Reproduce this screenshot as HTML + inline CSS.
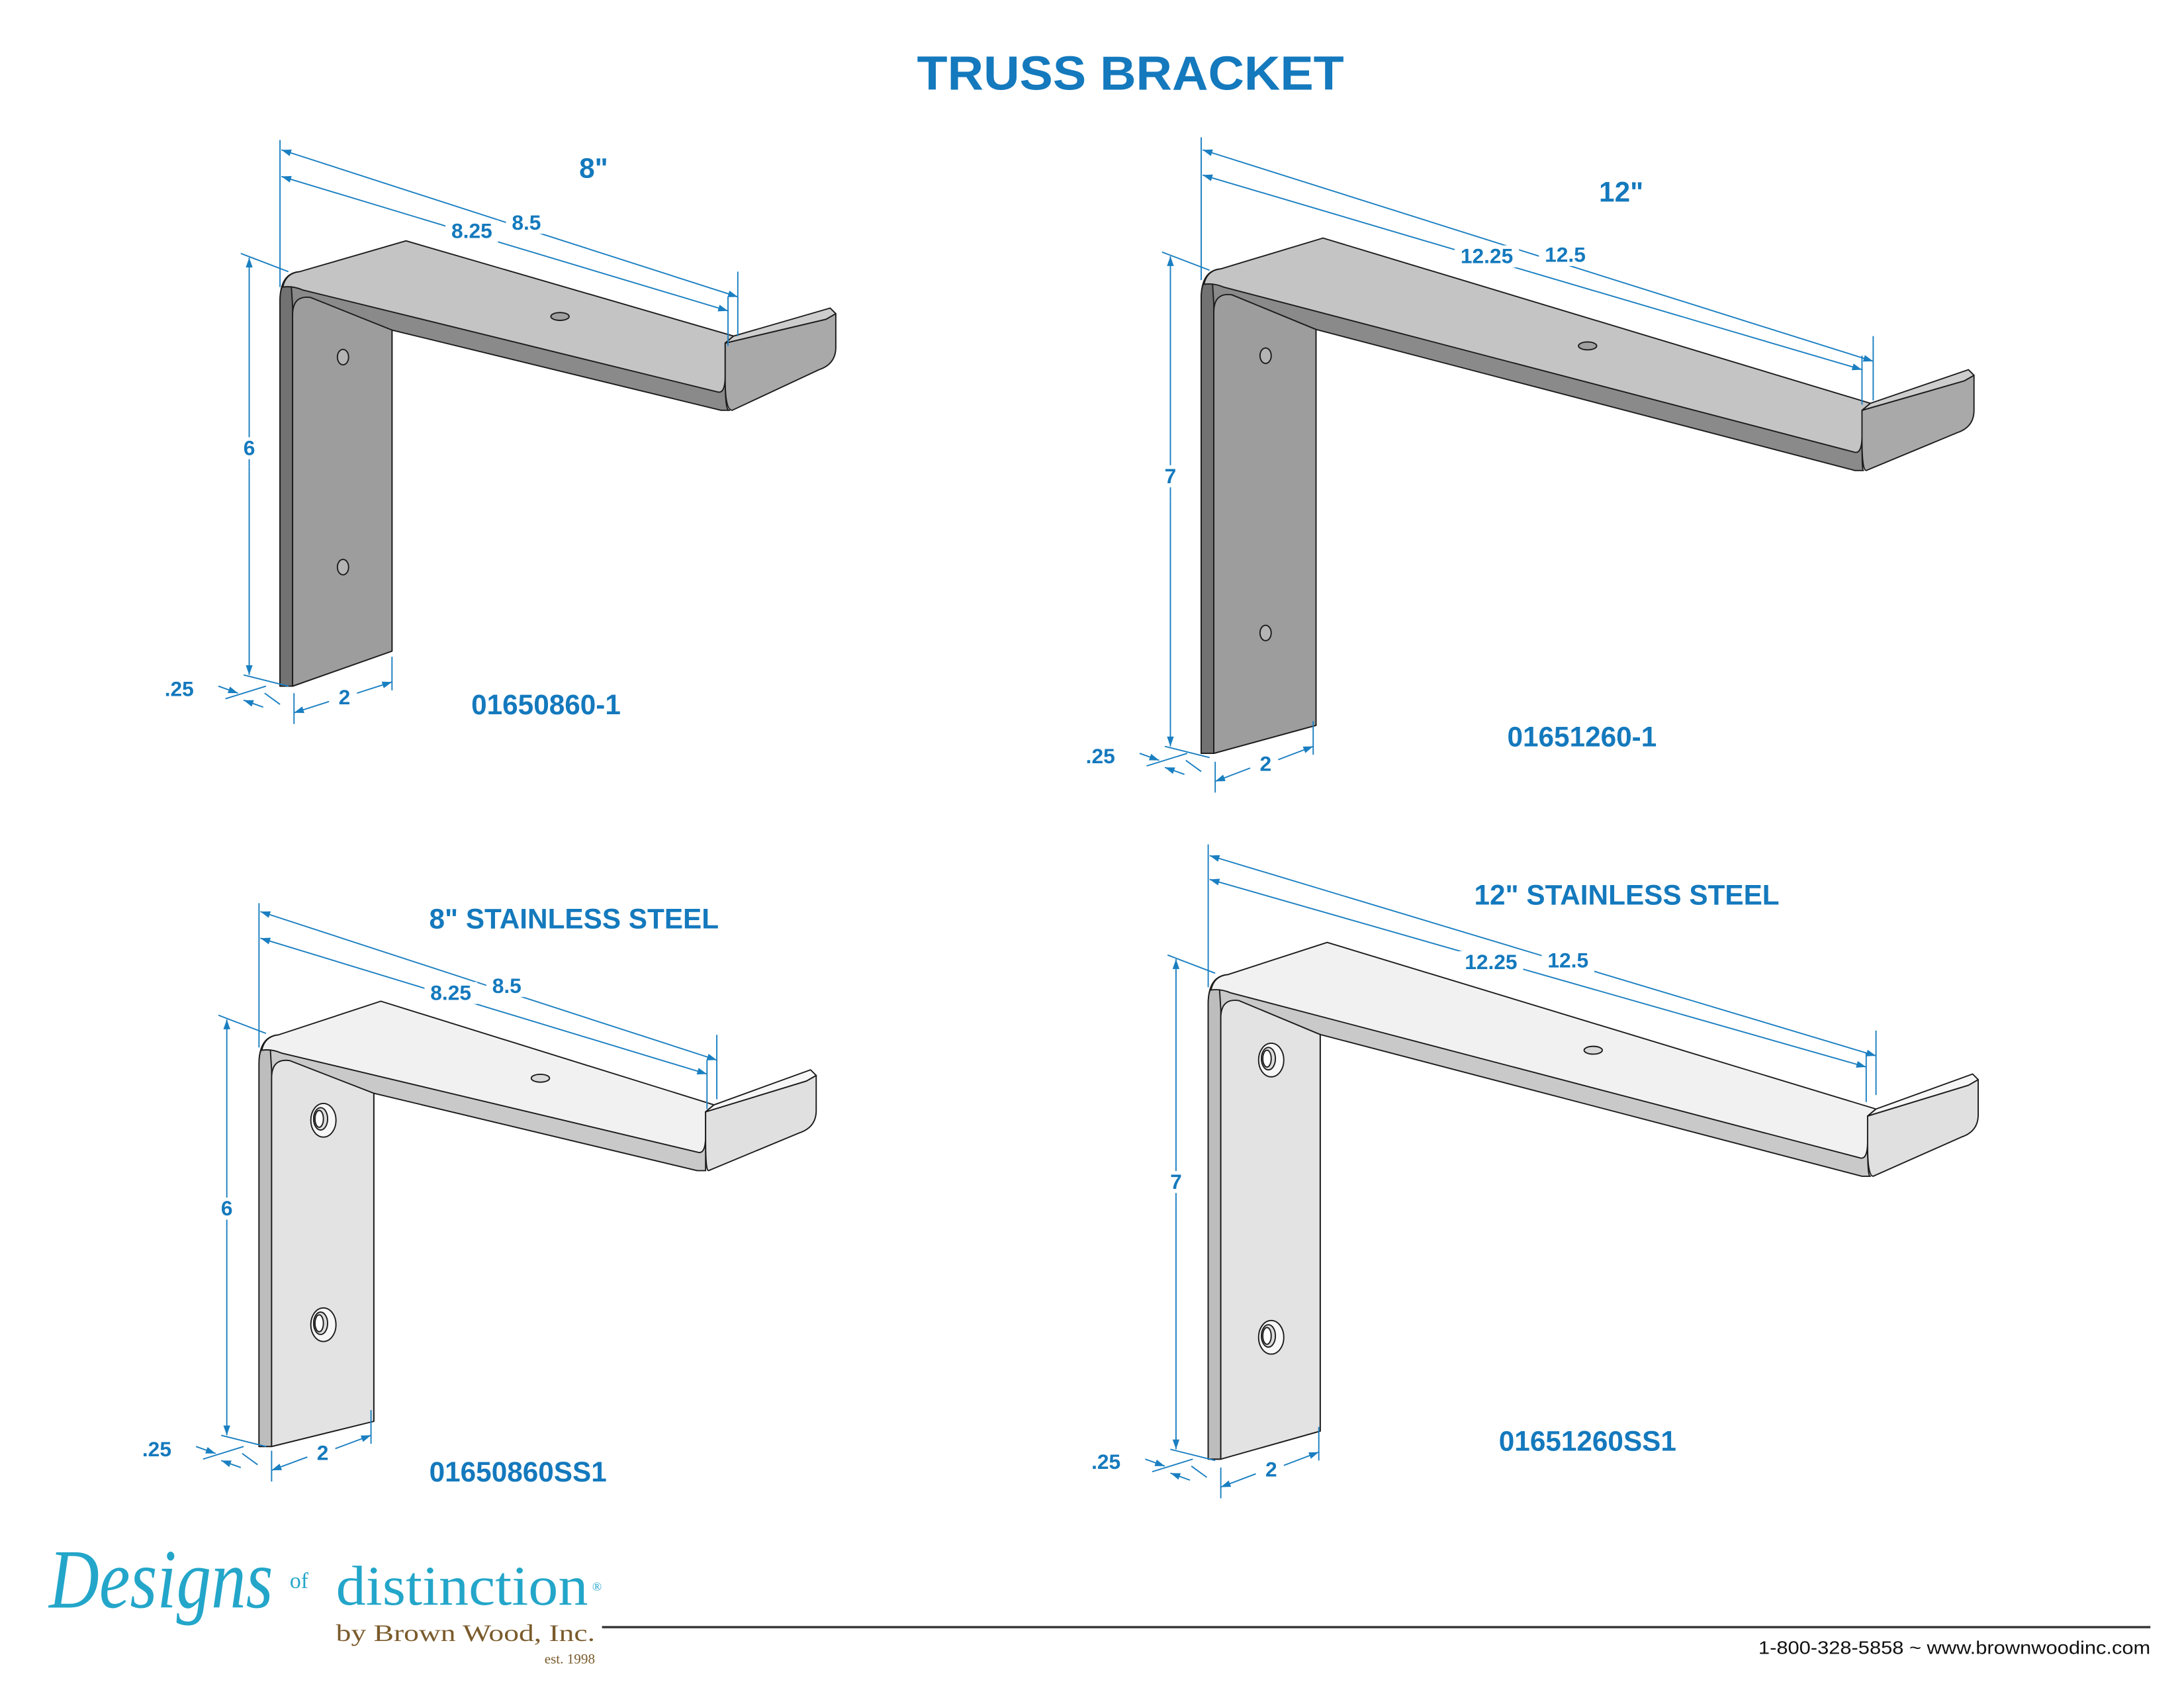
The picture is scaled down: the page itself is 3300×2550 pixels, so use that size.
<!DOCTYPE html>
<html><head><meta charset="utf-8"><style>
html,body{margin:0;padding:0;background:#fff}
svg{display:block}
</style></head><body>
<svg id="s" xmlns="http://www.w3.org/2000/svg" width="3300" height="2550" viewBox="0 0 1560 1205.45">
<defs>
<marker id="ar" viewBox="0 0 10 10" refX="10" refY="5" markerWidth="7" markerHeight="7" orient="auto-start-reverse" markerUnits="userSpaceOnUse"><path d="M0,1.5 L10,5 L0,8.5 Z" fill="#1a7fc1"/></marker>
</defs>
<rect width="1560" height="1206" fill="#fff"/>
<text x="655" y="64" textLength="305" lengthAdjust="spacingAndGlyphs" font-family="Liberation Sans, sans-serif" font-weight="bold" font-size="34" fill="#1479bd">TRUSS BRACKET</text>
<g id="g"></g>
<text x="35" y="1148" textLength="160" lengthAdjust="spacingAndGlyphs" font-family="Liberation Serif, serif" font-style="italic" font-size="60" fill="#23a6c9">Designs</text>
<text x="207" y="1134" font-family="Liberation Serif, serif" font-size="16" fill="#23a6c9">of</text>
<text x="240" y="1146" textLength="180" lengthAdjust="spacingAndGlyphs" font-family="Liberation Serif, serif" font-size="40" fill="#23a6c9">distinction</text>
<text x="423" y="1136" font-family="Liberation Serif, serif" font-size="9" fill="#23a6c9">®</text>
<text x="240" y="1172" textLength="185" lengthAdjust="spacingAndGlyphs" font-family="Liberation Serif, serif" font-size="17" fill="#7a5b2c">by Brown Wood, Inc.</text>
<text x="425" y="1188" text-anchor="end" font-family="Liberation Serif, serif" font-size="10" fill="#7a5b2c">est. 1998</text>
<line x1="430" y1="1162" x2="1536" y2="1162" stroke="#333" stroke-width="1.6"/>
<text x="1256" y="1181" textLength="280" lengthAdjust="spacingAndGlyphs" font-family="Liberation Sans, sans-serif" font-size="13" fill="#111">1-800-328-5858 ~ www.brownwoodinc.com</text>
</svg>
<script>
let out='';
const BLUE='#1a7fc1', TXT='#1479bd';
function P(a){return a.map(p=>p.join(',')).join(' ');}
function bracket(b){
 const {L,T,R,BL,BR,K,E,X,Lt,Lb,Z,ss}=b;
 const c = ss?{top:'#f1f1f1',band:'#c9c9c9',face:'#e3e3e3',edge:'#bdbdbd',lip:'#e0e0e0',liptop:'#f6f6f6'}
             :{top:'#c4c4c4',band:'#8a8a8a',face:'#9d9d9d',edge:'#727272',lip:'#a9a9a9',liptop:'#cdcdcd'};
 const Ef=[E[0]-6,E[1]+5];
 const Fe=[Ef[0]-5,Z[1]-13];
 const Fi=[L+16,T+12];
 const s=(Fe[1]-Fi[1])/(Fe[0]-Fi[0]);
 const yR=Fi[1]+(R-Fi[0])*s+13;
 const st='stroke="#1c1c1c" stroke-width="0.9" stroke-linejoin="round"';
 out+=`<path d="M${L},${T+20} Q${L},${T} ${L+14},${T-1} L${Ef} L${Ef[0]},${Z[1]-22} Q${Ef[0]},${Z[1]+1} ${Z[0]+6},${Z[1]} L${Z} L${R},${yR} L${R},${BR} L${L+9},${BL} L${L},${BL} Z" fill="${c.band}" ${st}/>`;
 out+=`<path d="M${L},${T+20} Q${L},${T+4} ${L+8},${T+8} L${L+9},${T+24} L${L+9},${BL} L${L},${BL} Z" fill="${c.edge}" ${st}/>`;
 const y2=Fi[1]+4+(L+22-Fi[0])*s;
 out+=`<path d="M${L+9},${BL} L${L+9},${T+30} Q${L+9},${y2-2} ${L+22},${y2} L${R},${yR} L${R},${BR} Z" fill="${c.face}" ${st}/>`;
 out+=`<path d="M${L+2},${T+10} Q${L+4},${T} ${L+14},${T-1} L${K} L${E} L${Ef} L${Ef[0]},${Fe[1]-12} Q${Ef[0]},${Fe[1]+1} ${Fe} L${Fi} Q${L+9},${T+9} ${L+2},${T+10} Z" fill="${c.top}" ${st}/>`;
 out+=`<path d="M${Ef} L${X-7},${Lt+2} L${X},${Lt-2} L${X},${Lb-12} Q${X},${Lb} ${X-12},${Lb+4} L${Z[0]+8},${Z[1]} Q${Ef[0]},${Z[1]} ${Ef[0]},${Z[1]-22} Z" fill="${c.lip}" ${st}/>`;
 out+=`<polygon points="${P([E,[X-4,Lt-6],[X,Lt-2],[X-7,Lt+2],Ef])}" fill="${c.liptop}" ${st}/>`;
 for(const h of b.holes){
  if(ss){
   out+=`<ellipse cx="${h[0]}" cy="${h[1]}" rx="9" ry="12" fill="#f7f7f7" ${st}/>`;
   out+=`<ellipse cx="${h[0]-2}" cy="${h[1]-1}" rx="5" ry="8" fill="#dcdcdc" ${st}/>`;
   out+=`<ellipse cx="${h[0]-3}" cy="${h[1]-1}" rx="3" ry="6" fill="#fff" ${st}/>`;
  } else out+=`<ellipse cx="${h[0]}" cy="${h[1]}" rx="4" ry="5.5" fill="#b4b4b4" ${st}/>`;
 }
 out+=`<ellipse cx="${b.ph[0]}" cy="${b.ph[1]}" rx="6.5" ry="2.8" fill="${ss?'#d8d8d8':'#a0a0a0'}" ${st}/>`;
}
function line(a,b,arrowEnd){
 out+=`<line x1="${a[0]}" y1="${a[1]}" x2="${b[0]}" y2="${b[1]}" stroke="${BLUE}" stroke-width="0.9" ${arrowEnd?'marker-end="url(#ar)"':''}/>`;
}
function txt(x,y,t,size,bg){
 if(bg){const w=t.length*size*0.56+4;out+=`<rect x="${x-w/2}" y="${y-size*0.85}" width="${w}" height="${size*1.05}" fill="#fff"/>`;}
 out+=`<text x="${x}" y="${y}" text-anchor="middle" font-family="Liberation Sans, sans-serif" font-weight="bold" font-size="${size}" fill="${TXT}">${t}</text>`;
}
function dims(d){
 line([d.vx,d.vTop],[d.vx,d.vBot]);
 line([d.A2[0],d.A2[1]-18],[d.A2[0],d.A2[1]+28]);
 line([d.B2[0],d.B2[1]-10],[d.B2[0],d.B2[1]+25]);
 line([(d.vx+d.A2[0])/2,(d.A1[1]+d.A2[1])/2],[d.vx+1,d.A1[1]],true);
 line([(d.vx+d.A2[0])/2,(d.A1[1]+d.A2[1])/2],d.A2,true);
 line([(d.vx+d.B2[0])/2,(d.B1y+d.B2[1])/2],[d.vx+1,d.B1y],true);
 line([(d.vx+d.B2[0])/2,(d.B1y+d.B2[1])/2],d.B2,true);
 txt(d.tB[0],d.tB[1],d.sB,15,true);
 txt(d.tA[0],d.tA[1],d.sA,15,true);
 line([d.hx-6,d.hTop-3],[d.hx+28,d.hTop+10]);
 line([d.hx,(d.hTop+d.hBot)/2],[d.hx,d.hTop],true);
 line([d.hx,(d.hTop+d.hBot)/2],[d.hx,d.hBot],true);
 txt(d.hx,d.hT,d.hs,15,true);
 line([d.hx-4,d.hBot],[d.hx+28,d.hBot+8]);
 const bx=d.bx, by=d.by;
 line([bx-5,by+6],[bx+24,by-3]);
 line([bx-10,by-3],[bx+4,by+2],true);
 line([bx+22,by+12],[bx+8,by+7],true);
 line([bx+23,by+2],[bx+34,by+10]);
 txt(bx-38,by+4,'.25',15,false);
 line([d.w1[0],d.w1[1]-14],[d.w1[0],d.w1[1]+8]);
 line([d.w2[0],d.w2[1]-18],[d.w2[0],d.w2[1]+6]);
 const mx=(d.w1[0]+d.w2[0])/2, my=(d.w1[1]+d.w2[1])/2;
 line([mx-10,my+3],d.w1,true);
 line([mx+10,my-3],d.w2,true);
 txt(mx+1,my+5,'2',15,true);
 txt(d.lab[0],d.lab[1],d.labs,20,false);
 txt(d.pn[0],d.pn[1],d.pns,20,false);
}
const B=[
 {L:200,T:195,R:280,BL:490,BR:465,K:[290,172],E:[524,240],X:597,Lt:226,Lb:260,Z:[515,293],ss:false,holes:[[245,255],[245,405]],ph:[400,226]},
 {L:858,T:193,R:940,BL:538,BR:518,K:[945,170],E:[1336,288],X:1410,Lt:270,Lb:305,Z:[1325,336],ss:false,holes:[[904,254],[904,452]],ph:[1134,247]},
 {L:185,T:740,R:267,BL:1033,BR:1015,K:[272,715],E:[510,789],X:583,Lt:770,Lb:805,Z:[498,836],ss:true,holes:[[231,800],[231,946]],ph:[386,770]},
 {L:863,T:697,R:943,BL:1042,BR:1022,K:[948,673],E:[1340,792],X:1413,Lt:773,Lb:808,Z:[1330,840],ss:true,holes:[[908,757],[908,955]],ph:[1138,750]}
];
B.forEach(bracket);
const D=[
 {vx:200,vTop:100,vBot:205,A1:[200,107],A2:[527,212],B1y:126,B2:[520,222],tA:[376,164],sA:'8.5',tB:[337,170],sB:'8.25',
  hx:178,hTop:184,hBot:482,hT:325,hs:'6',bx:166,by:493,w1:[210,509],w2:[280,487],lab:[424,127],labs:'8"',pn:[390,510],pns:'01650860-1'},
 {vx:858,vTop:98,vBot:200,A1:[858,107],A2:[1338,258],B1y:125,B2:[1330,264],tA:[1118,187],sA:'12.5',tB:[1062,188],sB:'12.25',
  hx:836,hTop:183,hBot:533,hT:345,hs:'7',bx:824,by:541,w1:[868,558],w2:[938,533],lab:[1158,144],labs:'12"',pn:[1130,533],pns:'01651260-1'},
 {vx:185,vTop:645,vBot:748,A1:[185,651],A2:[512,757],B1y:670,B2:[505,767],tA:[362,709],sA:'8.5',tB:[322,714],sB:'8.25',
  hx:162,hTop:728,hBot:1025,hT:868,hs:'6',bx:150,by:1036,w1:[194,1050],w2:[265,1025],lab:[410,663],labs:'8" STAINLESS STEEL',pn:[370,1058],pns:'01650860SS1'},
 {vx:863,vTop:603,vBot:705,A1:[863,611],A2:[1340,754],B1y:628,B2:[1333,762],tA:[1120,691],sA:'12.5',tB:[1065,692],sB:'12.25',
  hx:840,hTop:685,hBot:1035,hT:849,hs:'7',bx:828,by:1045,w1:[872,1062],w2:[942,1037],lab:[1162,646],labs:'12" STAINLESS STEEL',pn:[1134,1036],pns:'01651260SS1'}
];
D.forEach(dims);
document.getElementById('g').innerHTML=out;
</script>
</body></html>
